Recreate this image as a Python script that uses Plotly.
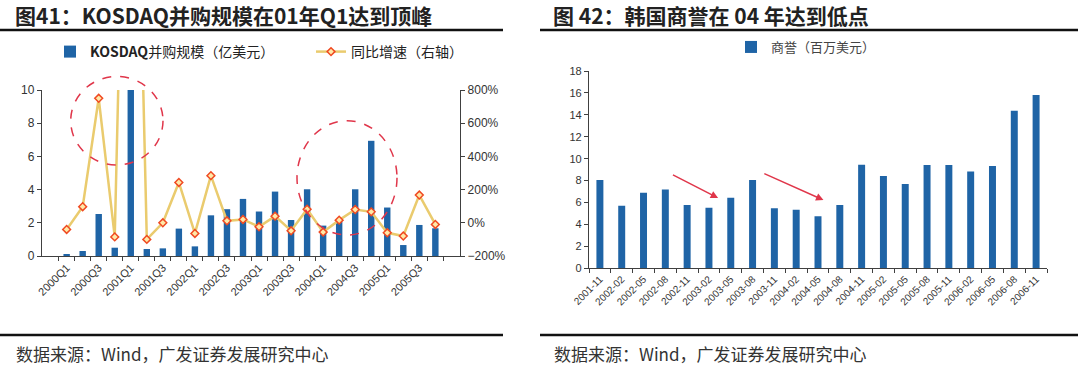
import plotly.graph_objects as go

# ---------------- data: left chart (KOSDAQ M&A) ----------------
quarters = ["2000Q1", "2000Q2", "2000Q3", "2000Q4",
            "2001Q1", "2001Q2", "2001Q3", "2001Q4",
            "2002Q1", "2002Q2", "2002Q3", "2002Q4",
            "2003Q1", "2003Q2", "2003Q3", "2003Q4",
            "2004Q1", "2004Q2", "2004Q3", "2004Q4",
            "2005Q1", "2005Q2", "2005Q3", "2005Q4"]
ma_scale = [0.12, 0.30, 2.53, 0.50,
            10.0, 0.42, 0.46, 1.65,
            0.58, 2.45, 2.82, 3.44,
            2.68, 3.88, 2.17, 4.02,
            1.83, 2.07, 4.02, 6.94,
            2.92, 0.66, 1.87, 1.67]
yoy_growth = [-40, 97, 750, -85,
              4000, -100, 0, 243,
              -64, 284, 12, 20,
              -24, 40, -48, 82,
              -56, 16, 80, 66,
              -60, -80, 167, -10]
quarter_labels = [q if i % 2 == 0 else "" for i, q in enumerate(quarters)]

# ---------------- data: right chart (Korea goodwill) ----------------
months = ["2001-11", "2002-02", "2002-05", "2002-08", "2002-11",
          "2003-02", "2003-05", "2003-08", "2003-11", "2004-02",
          "2004-05", "2004-08", "2004-11", "2005-02", "2005-05",
          "2005-08", "2005-11", "2006-02", "2006-05", "2006-08", "2006-11"]
goodwill = [8.05, 5.71, 6.90, 7.20, 5.78,
            5.53, 6.44, 8.05, 5.47, 5.35,
            4.75, 5.78, 9.45, 8.42, 7.69,
            9.42, 9.42, 8.84, 9.33, 14.38, 15.80]

# ---------------- styling ----------------
FONT = "Liberation Sans, Arial, Noto Sans CJK SC, sans-serif"
CJK = "Noto Sans CJK SC, Liberation Sans, sans-serif"
BLUE = "#1f64a6"
GOLD = "#eacb6e"
RED = "#e0364a"
AX = "#404040"

W, H = 1080, 367
def px(x):
    return x / W
def py(y):
    return 1 - y / H

fig = go.Figure()

fig.add_trace(go.Bar(
    x=quarters, y=ma_scale, name="<b>KOSDAQ</b>并购规模（亿美元）",
    marker=dict(color=BLUE, line=dict(width=0)), width=0.4,
    xaxis="x", yaxis="y", legend="legend"))
fig.add_trace(go.Scatter(
    x=quarters, y=yoy_growth, name="同比增速（右轴）", mode="lines+markers",
    line=dict(color=GOLD, width=2.5),
    marker=dict(symbol="diamond", size=6, color="#ffe9a8",
                line=dict(color="#f04a22", width=1.5)),
    xaxis="x", yaxis="y2", legend="legend", cliponaxis=True))

fig.add_trace(go.Bar(
    x=months, y=goodwill, name="商誉（百万美元）",
    marker=dict(color=BLUE, line=dict(width=0)), width=0.32,
    xaxis="x2", yaxis="y3", legend="legend2"))

axis_common = dict(showgrid=False, zeroline=False, showline=True,
                   linecolor=AX, linewidth=1.3, ticks="outside",
                   tickcolor=AX, ticklen=4, tickwidth=1, automargin=False,
                   tickfont=dict(family=FONT, size=11, color="#333"))

fig.update_layout(
    width=W, height=H,
    margin=dict(l=0, r=0, t=0, b=0, autoexpand=False),
    paper_bgcolor="white", plot_bgcolor="white",
    font=dict(family=FONT, color="#333"),
    hovermode=False,
    xaxis=dict(axis_common, domain=[px(42), px(460)], anchor="y",
               type="category", tickson="boundaries",
               tickvals=quarters, ticktext=quarter_labels,
               tickangle=-45, tickfont=dict(family=FONT, size=11, color="#333")),
    yaxis=dict(axis_common, domain=[py(256), py(90)], anchor="x",
               range=[0, 10], dtick=2,
               tickfont=dict(family=FONT, size=12, color="#333")),
    yaxis2=dict(axis_common, anchor="x", overlaying="y", side="right",
                range=[-200, 800], dtick=200, ticksuffix="%",
                tickfont=dict(family=FONT, size=12, color="#333")),
    xaxis2=dict(axis_common, domain=[px(589), px(1047)], anchor="y3",
                type="category", tickson="boundaries", tickangle=-45,
                tickfont=dict(family=FONT, size=10, color="#333")),
    yaxis3=dict(axis_common, domain=[py(268.3), py(71)], anchor="x2",
                range=[0, 18], dtick=2,
                tickfont=dict(family=FONT, size=11, color="#333")),
    legend=dict(orientation="h", x=px(50), y=py(52), xanchor="left",
                yanchor="middle", font=dict(family=CJK, size=14, color="#222"),
                bgcolor="rgba(0,0,0,0)", itemwidth=30, tracegroupgap=0,
                entrywidth=216, entrywidthmode="pixels"),
    legend2=dict(orientation="h", x=px(806), y=py(47), xanchor="center",
                 yanchor="middle", font=dict(family=CJK, size=13, color="#444"),
                 bgcolor="rgba(0,0,0,0)", itemwidth=30),
    showlegend=True,
)

shapes = []
# header / footer rules
for x0, x1 in [(0, 503), (540, 1078)]:
    for yy in (30, 335):
        shapes.append(dict(type="line", xref="paper", yref="paper",
                           x0=px(x0), x1=px(x1), y0=py(yy), y1=py(yy),
                           line=dict(color="#111", width=2.5)))
# dashed highlight circles
shapes.append(dict(type="circle", xref="paper", yref="paper",
                   x0=px(70.7), x1=px(163), y0=py(165), y1=py(76.5),
                   line=dict(color=RED, width=1.5, dash="dash")))
shapes.append(dict(type="circle", xref="paper", yref="paper",
                   x0=px(297), x1=px(397), y0=py(235), y1=py(120.7),
                   line=dict(color=RED, width=1.5, dash="dash")))
fig.update_layout(shapes=shapes)

annotations = [
    dict(text="<b>图41：KOSDAQ并购规模在01年Q1达到顶峰</b>", xref="paper", yref="paper",
         x=px(13), y=py(15), xanchor="left", yanchor="middle", showarrow=False,
         font=dict(family=CJK, size=21, color="#222")),
    dict(text="<b>图 42：韩国商誉在 04 年达到低点</b>", xref="paper", yref="paper",
         x=px(551), y=py(15), xanchor="left", yanchor="middle", showarrow=False,
         font=dict(family=CJK, size=21, color="#222")),
    dict(text="数据来源：Wind，广发证券发展研究中心", xref="paper", yref="paper",
         x=px(14), y=py(353), xanchor="left", yanchor="middle", showarrow=False,
         font=dict(family=CJK, size=17, color="#333")),
    dict(text="数据来源：Wind，广发证券发展研究中心", xref="paper", yref="paper",
         x=px(552), y=py(353), xanchor="left", yanchor="middle", showarrow=False,
         font=dict(family=CJK, size=17, color="#333")),
    # red arrows in right chart
    dict(x=5.42, y=6.41, ax=3.28, ay=8.6, xref="x2", yref="y3",
         axref="x2", ayref="y3", text="", showarrow=True,
         arrowhead=2, arrowsize=1, arrowwidth=1.5, arrowcolor=RED),
    dict(x=10.25, y=6.23, ax=7.47, ay=8.7, xref="x2", yref="y3",
         axref="x2", ayref="y3", text="", showarrow=True,
         arrowhead=2, arrowsize=1, arrowwidth=1.5, arrowcolor=RED),
]
fig.update_layout(annotations=annotations)

fig.write_html("out.html",
               config={"displayModeBar": False},
               post_script="document.body.style.margin='0px';")
